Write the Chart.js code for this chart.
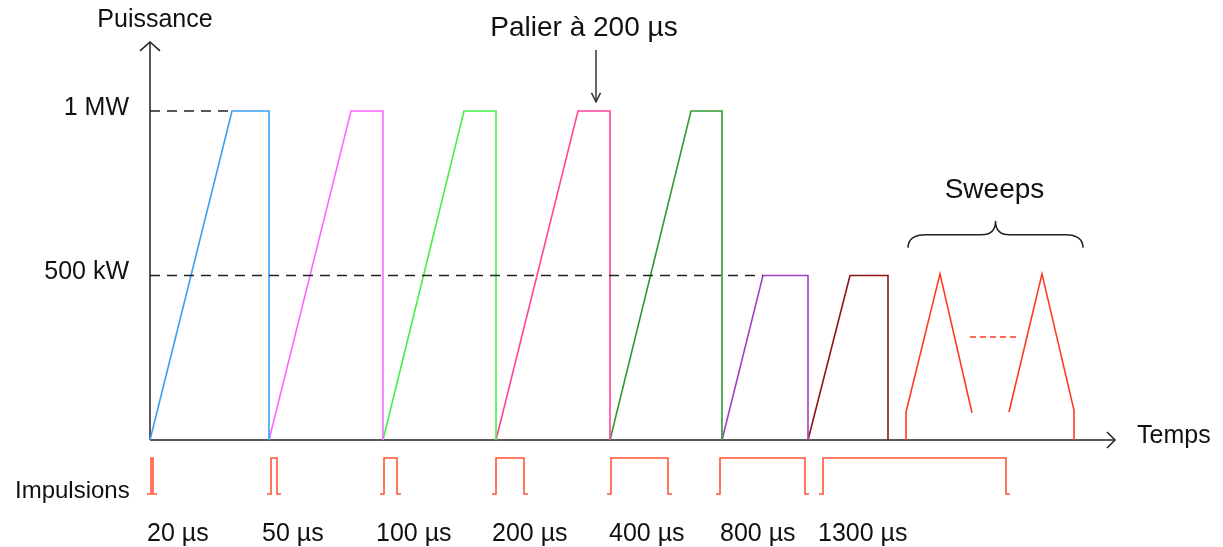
<!DOCTYPE html>
<html lang="fr">
<head>
<meta charset="utf-8">
<title>Puissance et impulsions</title>
<script src="https://cdn.jsdelivr.net/npm/chart.js@4.4.1/dist/chart.umd.min.js"></script>
<style>
  html, body { margin: 0; padding: 0; background: #fff; }
  #cadre { width: 1223px; height: 547px; position: relative; }
</style>
</head>
<body>
<div id="cadre"><canvas id="graphe"></canvas></div>
<script>
// Données du schéma : temps en unités arbitraires (origine = axe des puissances), puissance en kW

// Rampes de montée puis palier, une par largeur d'impulsion
const debutsRampe = [0, 119, 233, 346, 460, 572, 658];
const finsRampe   = [82, 201, 314, 428, 541, 613, 700];
const finsPalier  = [119, 233, 346, 460, 572, 658, 738];
const niveaux     = [1000, 1000, 1000, 1000, 1000, 500, 500];
const couleursRampes = ['#3a9ff5', '#ff66ff', '#44f044', '#ff4499', '#2f9a2f', '#a040c0', '#8e1414'];

// Sweeps (deux triangles + pointillés entre les deux)
const sweep1Temps = [756, 756, 790, 822];
const sweep1Puissance = [0, 85, 505, 83];
const sweep2Temps = [859, 892, 924, 924];
const sweep2Puissance = [85, 505, 90, 0];
const pointillesSweepTemps = [820, 868];
const pointillesSweepPuissance = [313, 313];

// Graduations de l'axe des puissances
const graduations = [500, 1000];
const etiquettesGraduations = ['500 kW', '1 MW'];
const finPointilles = [613, 82]; // jusqu'où va le pointillé de chaque graduation

// Impulsions (front montant / front descendant)
const impulsionsDebut = [1, 121, 234, 346, 461, 570, 673];
const impulsionsFin   = [3, 127, 247, 374, 518, 655, 856];
const impulsionsLabels = ['20 µs', '50 µs', '100 µs', '200 µs', '400 µs', '800 µs', '1300 µs'];
const impulsionsLabelsTemps = [-3, 112, 226, 342, 459, 570, 668];

const POLICE = '"Liberation Sans", Arial, sans-serif';
const ROUGE_IMP = '#ff5533';

function construireDatasets() {
    const ds = [];
    // pointillés noirs des graduations
    graduations.forEach((g, i) => {
        ds.push({
            data: [{ x: 0, y: g }, { x: finPointilles[i], y: g }],
            borderColor: '#222',
            borderWidth: 1.5,
            borderDash: [10, 7],
        });
    });
    // rampes
    debutsRampe.forEach((d, i) => {
        ds.push({
            data: [
                { x: d, y: 0 },
                { x: finsRampe[i], y: niveaux[i] },
                { x: finsPalier[i], y: niveaux[i] },
                { x: finsPalier[i], y: 0 },
            ],
            borderColor: couleursRampes[i],
            borderWidth: 1.6,
        });
    });
    // sweeps
    ds.push({
        data: sweep1Temps.map((t, i) => ({ x: t, y: sweep1Puissance[i] })),
        borderColor: '#ff3a22',
        borderWidth: 1.6,
    });
    ds.push({
        data: sweep2Temps.map((t, i) => ({ x: t, y: sweep2Puissance[i] })),
        borderColor: '#ff3a22',
        borderWidth: 1.6,
    });
    ds.push({
        data: pointillesSweepTemps.map((t, i) => ({ x: t, y: pointillesSweepPuissance[i] })),
        borderColor: '#ff3a22',
        borderWidth: 1.5,
        borderDash: [6, 4],
    });
    // impulsions
    impulsionsDebut.forEach((d, i) => {
        const f = impulsionsFin[i];
        ds.push({
            yAxisID: 'yImp',
            data: [
                { x: d - 4, y: 0 }, { x: d, y: 0 }, { x: d, y: 1 },
                { x: f, y: 1 }, { x: f, y: 0 }, { x: f + 4, y: 0 },
            ],
            borderColor: ROUGE_IMP,
            borderWidth: 1.6,
        });
    });
    return ds;
}

function fleche(ctx, x, y, dx, dy, ax, ay) {
    // pointe en (x, y), ailes vers l'arrière
    ctx.beginPath();
    ctx.moveTo(x - dx * ax + dy * ay, y - dy * ax - dx * ay);
    ctx.lineTo(x, y);
    ctx.lineTo(x - dx * ax - dy * ay, y - dy * ax + dx * ay);
    ctx.stroke();
}

const axesPlugin = {
    id: 'axesSchema',
    beforeDatasetsDraw(chart) {
        const { ctx, scales: { x, y } } = chart;
        const x0 = x.getPixelForValue(0), y0 = y.getPixelForValue(0);
        const xFin = x.getPixelForValue(965), yHaut = y.getPixelForValue(1210);
        ctx.save();
        ctx.strokeStyle = '#222';
        ctx.lineWidth = 1.5;
        ctx.beginPath();
        ctx.moveTo(x0, y0); ctx.lineTo(xFin, y0);
        ctx.moveTo(x0, y0); ctx.lineTo(x0, yHaut);
        ctx.stroke();
        fleche(ctx, xFin, y0, 1, 0, 8, 8);
        fleche(ctx, x0, yHaut, 0, -1, 9, 10);
        ctx.restore();
    },
    afterDatasetsDraw(chart) {
        const { ctx, scales: { x, y } } = chart;
        const x0 = x.getPixelForValue(0), y0 = y.getPixelForValue(0);
        ctx.save();
        ctx.fillStyle = '#111';
        ctx.textBaseline = 'alphabetic';
        ctx.font = '25px ' + POLICE;

        // graduations
        ctx.textAlign = 'right';
        graduations.forEach((g, i) => {
            ctx.fillText(etiquettesGraduations[i], x0 - 21, y.getPixelForValue(g) + 3.5);
        });

        // titres des axes
        ctx.textAlign = 'center';
        ctx.fillText('Puissance', x0 + 5, 27);
        ctx.textAlign = 'left';
        ctx.fillText('Temps', x.getPixelForValue(987), y0 + 3);

        // étiquettes des impulsions
        impulsionsLabels.forEach((lab, i) => {
            ctx.fillText(lab, x.getPixelForValue(impulsionsLabelsTemps[i]), 541);
        });
        ctx.font = '24px ' + POLICE;
        ctx.fillText('Impulsions', 15, 498);

        // annotation du palier
        ctx.font = '28px ' + POLICE;
        ctx.textAlign = 'center';
        ctx.fillText('Palier à 200 µs', 584, 36);
        const xp = x.getPixelForValue(446);
        const yp = y.getPixelForValue(1028);
        ctx.strokeStyle = '#333';
        ctx.lineWidth = 1.5;
        ctx.beginPath();
        ctx.moveTo(xp, 50); ctx.lineTo(xp, yp);
        ctx.stroke();
        fleche(ctx, xp, yp, 0, 1, 9, 4.5);

        // accolade des sweeps
        const xl = x.getPixelForValue(758), xr = x.getPixelForValue(933);
        const xm = (xl + xr) / 2;
        const yb = y.getPixelForValue(584), yt = y.getPixelForValue(624), ytip = y.getPixelForValue(666);
        ctx.strokeStyle = '#222';
        ctx.beginPath();
        ctx.moveTo(xl, yb);
        ctx.quadraticCurveTo(xl, yt, xl + 18, yt);
        ctx.lineTo(xm - 14, yt);
        ctx.quadraticCurveTo(xm, yt, xm, ytip);
        ctx.quadraticCurveTo(xm, yt, xm + 14, yt);
        ctx.lineTo(xr - 18, yt);
        ctx.quadraticCurveTo(xr, yt, xr, yb);
        ctx.stroke();
        ctx.fillText('Sweeps', xm - 1, 198);
        ctx.restore();
    }
};

new Chart(document.getElementById('graphe'), {
    type: 'scatter',
    data: { datasets: construireDatasets() },
    options: {
        responsive: true,
        maintainAspectRatio: false,
        animation: false,
        showLine: true,
        layout: { padding: 0, autoPadding: false },
        elements: {
            point: { radius: 0, hoverRadius: 0 },
            line: { tension: 0, fill: false },
        },
        scales: {
            x: { type: 'linear', min: -150, max: 1073, display: false },
            y: { type: 'linear', min: -325.2, max: 1337.4, display: false },
            yImp: { type: 'linear', min: -1.472, max: 13.72, display: false },
        },
        plugins: {
            legend: { display: false },
            tooltip: { enabled: false },
        },
    },
    plugins: [axesPlugin],
});
</script>
</body>
</html>
